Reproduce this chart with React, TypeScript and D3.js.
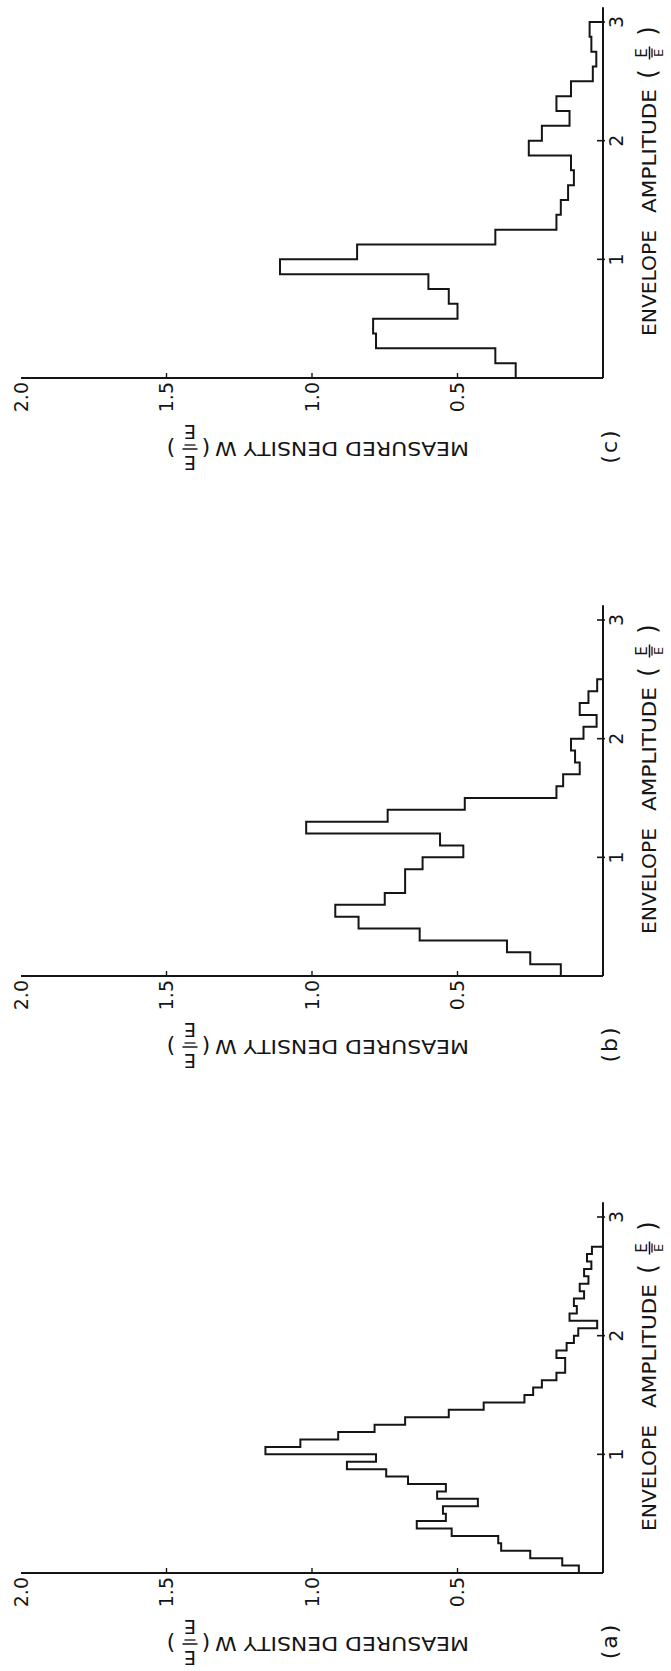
import React from 'react';
import * as d3 from 'd3';

// ---- data ----
const ampTicks = [1, 2, 3];
const ampTickLabels = ['1', '2', '3'];
const densityTicks = [0.5, 1.0, 1.5, 2.0];
const densityTickLabels = ['0.5', '1.0', '1.5', '2.0'];

const xTitleWords = ['ENVELOPE', 'AMPLITUDE'];
const yTitle = 'MEASURED DENSITY W';

// panel (a)
const aLabel = '(a)';
const aBinWidth = 0.0625;
const aValues = [
  0.083, 0.14, 0.25, 0.35, 0.36, 0.52, 0.64, 0.54, 0.55, 0.43, 0.57, 0.54,
  0.67, 0.745, 0.88, 0.78, 1.16, 1.04, 0.91, 0.785, 0.68, 0.53, 0.41, 0.27,
  0.24, 0.21, 0.16, 0.13, 0.13, 0.16, 0.125, 0.10, 0.085, 0.02, 0.115, 0.09,
  0.10, 0.065, 0.08, 0.05, 0.065, 0.04, 0.055, 0.038,
];

// panel (b)
const bLabel = '(b)';
const bBinWidth = 0.1;
const bValues = [
  0.145, 0.25, 0.33, 0.63, 0.84, 0.92, 0.75, 0.68, 0.68, 0.62, 0.48, 0.56,
  1.02, 0.74, 0.475, 0.16, 0.137, 0.08, 0.096, 0.11, 0.067, 0.022, 0.08,
  0.05, 0.02,
];

// panel (c)
const cLabel = '(c)';
const cBinWidth = 0.125;
const cValues = [
  0.30, 0.37, 0.78, 0.79, 0.50, 0.53, 0.60, 1.11, 0.845, 0.37, 0.16, 0.145,
  0.12, 0.10, 0.11, 0.255, 0.21, 0.115, 0.16, 0.11, 0.035, 0.023, 0.04, 0.046,
];

// ---- layout ----
const W = 671;
const H = 1671;
const FONT = '"DejaVu Sans", sans-serif';
const INK = '#151515';

const panels = [
  { label: cLabel, values: cValues, w: cBinWidth, base: 378 },
  { label: bLabel, values: bValues, w: bBinWidth, base: 976 },
  { label: aLabel, values: aValues, w: aBinWidth, base: 1573 },
];

// inner (unrotated) coordinates: u along amplitude, v along density
const xS = d3.scaleLinear().domain([0, 3]).range([0, 356]);
const yS = d3.scaleLinear().domain([0, 2]).range([603, 21]);
const AXIS_V = yS(0);

function stepPoints(values: number[], w: number): [number, number][] {
  const pts: [number, number][] = [[0, 0]];
  values.forEach((v, i) => {
    pts.push([i * w, v]);
    pts.push([(i + 1) * w, v]);
  });
  pts.push([values.length * w, 0]);
  return pts;
}

const line = d3
  .line<[number, number]>()
  .x((d) => xS(d[0]))
  .y((d) => yS(d[1]));

function Fraction({ cx, numBase, barY, overY, denBase, numSize, denSize, width }: any) {
  return (
    <g>
      <text x={cx} y={numBase} fontSize={numSize} textAnchor="middle" fill={INK} fontFamily={FONT}>E</text>
      <line x1={cx - width / 2 - 1} x2={cx + width / 2 + 1} y1={barY} y2={barY} stroke={INK} strokeWidth={1.5} />
      <line x1={cx - width / 2 + 1} x2={cx + width / 2 - 1} y1={overY} y2={overY} stroke={INK} strokeWidth={1.3} />
      <text x={cx} y={denBase} fontSize={denSize} textAnchor="middle" fill={INK} fontFamily={FONT}>E</text>
    </g>
  );
}

function Panel({ label, values, w, base }: any) {
  const d = line(stepPoints(values, w)) || '';
  return (
    <g transform={`translate(0, ${base}) rotate(-90)`}>
      {/* density axis */}
      <line x1={0} x2={0} y1={yS(0)} y2={yS(2)} stroke={INK} strokeWidth={2} />
      {/* amplitude axis */}
      <line x1={0} x2={xS(3.125)} y1={AXIS_V} y2={AXIS_V} stroke={INK} strokeWidth={2} />
      {ampTicks.map((t, i) => (
        <g key={'at' + t}>
          <line x1={xS(t)} x2={xS(t)} y1={AXIS_V - 6} y2={AXIS_V + 2} stroke={INK} strokeWidth={1.6} />
          <text x={xS(t)} y={AXIS_V + 20} fontSize={19} textAnchor="middle" fill={INK} fontFamily={FONT}>
            {ampTickLabels[i]}
          </text>
        </g>
      ))}
      {densityTicks.map((t, i) => (
        <g key={'dt' + t}>
          {t < 2 && <line x1={0} x2={5} y1={yS(t)} y2={yS(t)} stroke={INK} strokeWidth={1.4} />}
          <text x={-4} y={yS(t)} dy="0.36em" fontSize={19} textAnchor="end" fill={INK} fontFamily={FONT}>
            {densityTickLabels[i]}
          </text>
        </g>
      ))}
      {/* histogram */}
      <path d={d} fill="none" stroke={INK} strokeWidth={2} strokeLinejoin="miter" />
      {/* x title */}
      <text x={42} y={656} fontSize={20} textLength={106} lengthAdjust="spacingAndGlyphs" fill={INK} fontFamily={FONT}>
        {xTitleWords[0]}
      </text>
      <text x={165} y={656} fontSize={20} textLength={124} lengthAdjust="spacingAndGlyphs" fill={INK} fontFamily={FONT}>
        {xTitleWords[1]}
      </text>
      <text x={304} y={656} fontSize={24} textAnchor="middle" fill={INK} fontFamily={FONT}>(</text>
      <Fraction cx={325} numBase={647} barY={649.5} overY={652} denBase={663} numSize={15} denSize={13} width={11} />
      <text x={347} y={656} fontSize={24} textAnchor="middle" fill={INK} fontFamily={FONT}>)</text>
      {/* y title (reads upward in the unrotated frame) */}
      <g transform={`translate(-64, 469) rotate(-90)`}>
        <text x={0} y={0} fontSize={20} textLength={254} lengthAdjust="spacingAndGlyphs" fill={INK} fontFamily={FONT}>
          {yTitle}
        </text>
        <text x={263} y={1} fontSize={22} textAnchor="middle" fill={INK} fontFamily={FONT}>(</text>
        <Fraction cx={279} numBase={-14} barY={-7} overY={-3} denBase={17} numSize={19} denSize={19} width={13} />
        <text x={298} y={1} fontSize={22} textAnchor="middle" fill={INK} fontFamily={FONT}>)</text>
      </g>
      {/* panel label */}
      <text x={-68} y={617} fontSize={22} letterSpacing={2} textAnchor="middle" fill={INK} fontFamily={FONT}>
        {label}
      </text>
    </g>
  );
}

export default function App() {
  return (
    <svg
      width={W}
      height={H}
      viewBox={`0 0 ${W} ${H}`}
      style={{ position: 'absolute', left: 0, top: 0, background: '#fff' }}
    >
      <rect x={0} y={0} width={W} height={H} fill="#fff" />
      {panels.map((p) => (
        <Panel key={p.label} {...p} />
      ))}
    </svg>
  );
}
